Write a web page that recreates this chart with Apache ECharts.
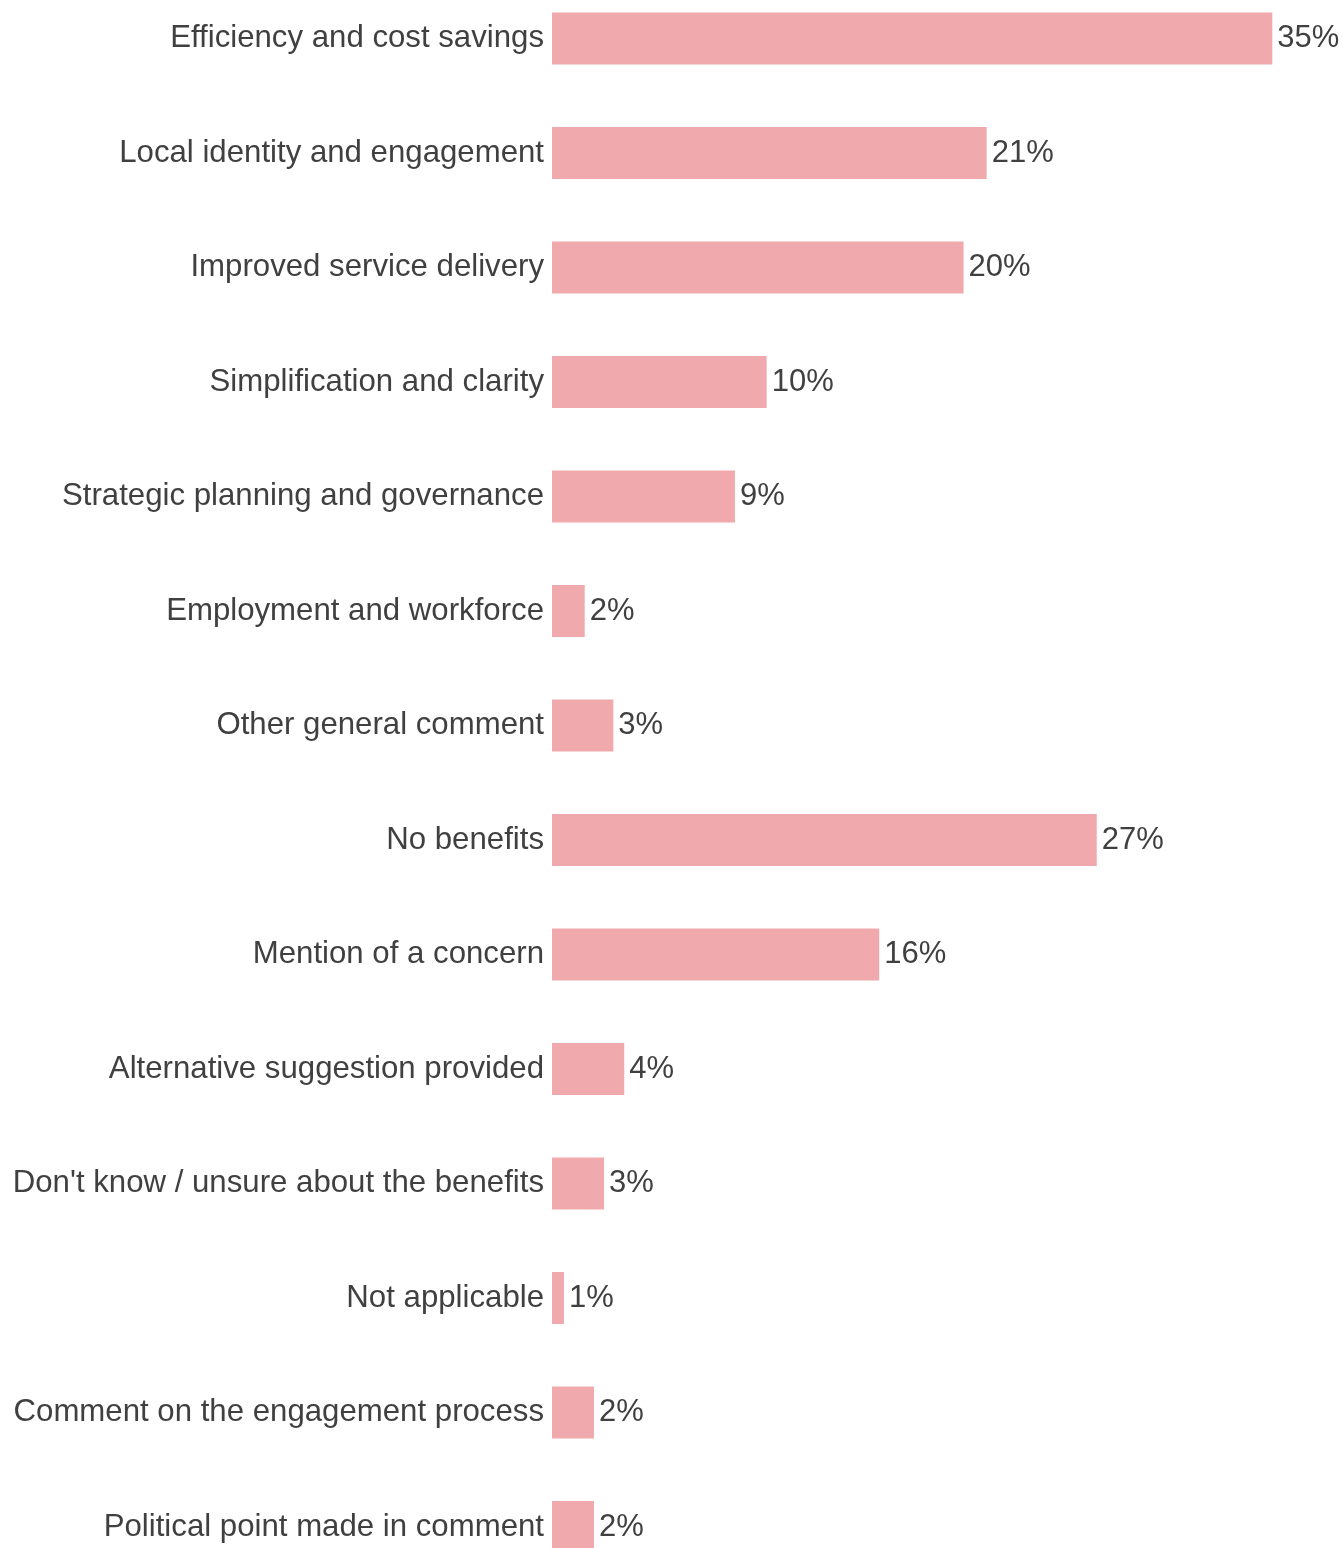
<!DOCTYPE html>
<html>
<head>
<meta charset="utf-8">
<script src="https://cdn.jsdelivr.net/npm/echarts@6/dist/echarts.min.js"></script>
<style>
  html, body { margin: 0; padding: 0; background: #ffffff; }
  #chart { width: 1343px; height: 1548px; }
</style>
</head>
<body>
<div id="chart"></div>
<script>
const categories = [
  "Efficiency and cost savings",
  "Local identity and engagement",
  "Improved service delivery",
  "Simplification and clarity",
  "Strategic planning and governance",
  "Employment and workforce",
  "Other general comment",
  "No benefits",
  "Mention of a concern",
  "Alternative suggestion provided",
  "Don't know / unsure about the benefits",
  "Not applicable",
  "Comment on the engagement process",
  "Political point made in comment"
];
const values = [35.0, 21.12, 20.0, 10.43, 8.89, 1.59, 2.98, 26.47, 15.9, 3.51, 2.53, 0.58, 2.04, 2.04];
const valueLabels = ["35%", "21%", "20%", "10%", "9%", "2%", "3%", "27%", "16%", "4%", "3%", "1%", "2%", "2%"];

const chart = echarts.init(document.getElementById('chart'), null, { renderer: 'canvas' });
const FONT = '"Liberation Sans", Arial, Helvetica, sans-serif';
chart.setOption({
  animation: false,
  backgroundColor: '#ffffff',
  grid: { left: 552, right: 70.7, top: 38.5, bottom: 21, containLabel: false },
  xAxis: {
    type: 'value',
    min: 0,
    max: 35,
    show: false
  },
  yAxis: {
    type: 'category',
    data: categories,
    inverse: true,
    boundaryGap: false,
    axisLine: { show: false },
    axisTick: { show: false },
    splitLine: { show: false },
    axisLabel: {
      margin: 8,
      fontSize: 31.2,
      color: '#404040',
      fontFamily: FONT,
      interval: 0
    }
  },
  series: [{
    type: 'bar',
    data: values,
    barWidth: 52,
    itemStyle: { color: '#F0AAAD' },
    label: {
      show: true,
      position: 'right',
      distance: 5,
      fontSize: 31,
      color: '#404040',
      fontFamily: FONT,
      formatter: function (p) { return valueLabels[p.dataIndex]; }
    }
  }]
});
</script>
</body>
</html>
